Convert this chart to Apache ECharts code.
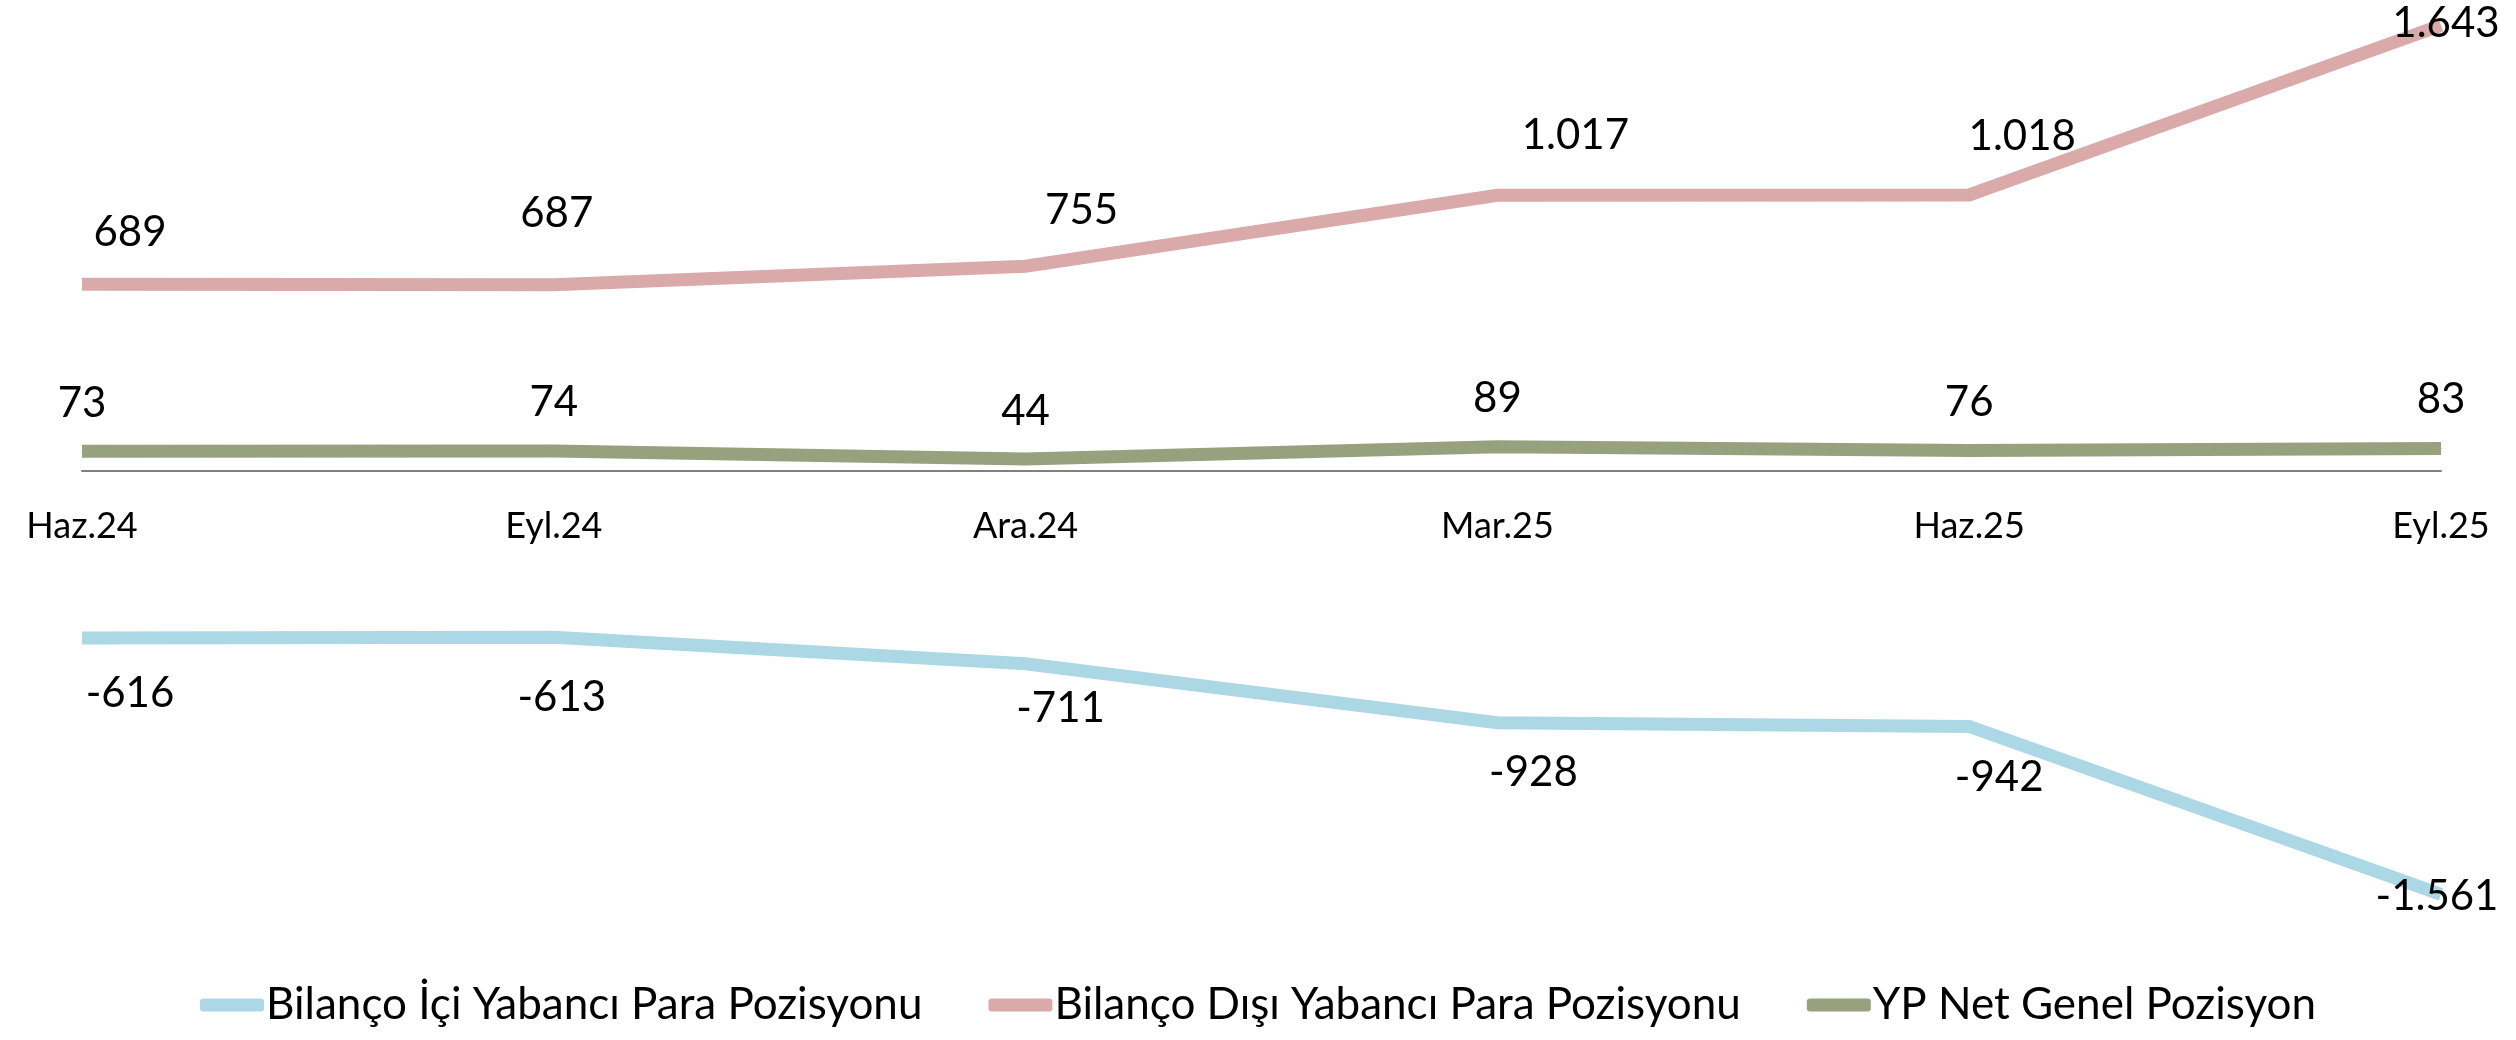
<!DOCTYPE html>
<html>
<head>
<meta charset="utf-8">
<script src="https://cdn.jsdelivr.net/npm/echarts@6/dist/echarts.min.js"></script>
<style>html,body{margin:0;padding:0;background:#fff}#c{width:2516px;height:1040px}</style>
</head>
<body>
<div id="c"></div>
<script>
var categories = ['Haz.24', 'Eyl.24', 'Ara.24', 'Mar.25', 'Haz.25', 'Eyl.25'];
var seriesNames = ['Bilanço İçi Yabancı Para Pozisyonu', 'Bilanço Dışı Yabancı Para Pozisyonu', 'YP Net Genel Pozisyon'];
var bilancoIci = [-616, -613, -711, -928, -942, -1561];
var bilancoDisi = [689, 687, 755, 1017, 1018, 1643];
var ypNet = [73, 74, 44, 89, 76, 83];

// label placement (style only)
var offIci = [[48,55],[8,60],[35,45],[36,50],[30,51],[-4,2]];
var offDisi = [[48,-52],[3,-71],[56,-56],[78,-60],[53,-58],[5,-2]];
var offNet = [[0,-48],[0,-48],[0,-48],[0,-48],[0,-48],[0,-49]];

var FONT = 'Lato, "Open Sans", sans-serif';
function fmt(v){
  var s = Math.abs(v).toString();
  var out = s.replace(/\B(?=(\d{3})+(?!\d))/g, '.');
  return (v < 0 ? '-' : '') + out;
}
function build(vals, offs){
  return vals.map(function(v,i){
    return {value: v, label: {offset: offs[i]}};
  });
}
function mk(name, vals, offs, color){
  return {
    name: name, type: 'line', data: build(vals, offs),
    symbol: 'circle', symbolSize: 1, showSymbol: true,
    itemStyle: {color: color},
    lineStyle: {color: color, width: 13, cap: 'butt', join: 'miter'},
    emphasis: {disabled: true},
    label: {show: true, position: 'inside', color: '#000', fontSize: 42, fontFamily: FONT,
      formatter: function(p){ return fmt(p.value); }},
    z: 3
  };
}
var chart = echarts.init(document.getElementById('c'));
chart.setOption({
  animation: false,
  backgroundColor: '#fff',
  grid: {left: 82, right: 75, top: 10, bottom: 108, containLabel: false},
  legend: {
    top: 978, left: 'center', itemWidth: 64, itemHeight: 13, itemGap: 66,
    icon: 'roundRect',
    textStyle: {fontSize: 44, fontFamily: FONT, color: '#000', padding: [0,0,0,-3]},
    data: seriesNames
  },
  xAxis: {
    type: 'category', data: categories, boundaryGap: false,
    position: 'bottom', offset: -461,
    axisLine: {onZero: false, lineStyle: {color: '#808080', width: 2}},
    axisTick: {show: false},
    axisLabel: {fontSize: 36, fontFamily: FONT, color: '#000', margin: 37}
  },
  yAxis: {
    type: 'value', min: -1700, max: 1700,
    show: false, splitLine: {show: false}
  },
  series: [
    mk(seriesNames[0], bilancoIci, offIci, '#ABD8E4'),
    mk(seriesNames[1], bilancoDisi, offDisi, '#D9AAA9'),
    mk(seriesNames[2], ypNet, offNet, '#97A17E')
  ]
});
</script>
</body>
</html>
